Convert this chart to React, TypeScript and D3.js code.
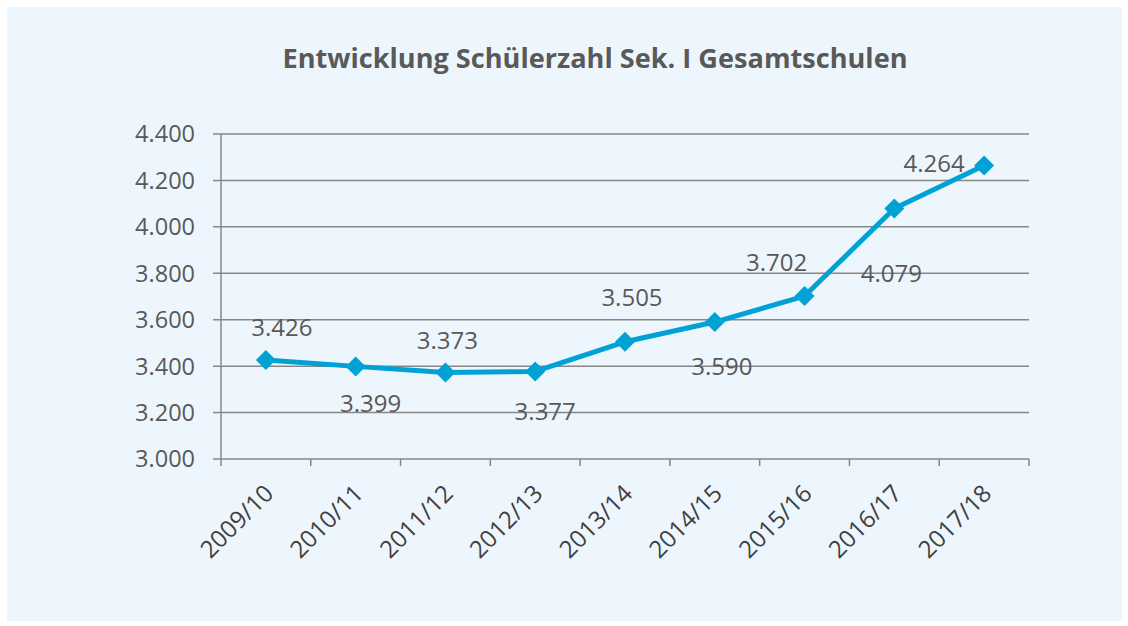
import React from 'react'
import * as d3 from 'd3'

const years = ['2009/10', '2010/11', '2011/12', '2012/13', '2013/14', '2014/15', '2015/16', '2016/17', '2017/18']
const pupils = [3426, 3399, 3373, 3377, 3505, 3590, 3702, 4079, 4264]
const yTicks = [3000, 3200, 3400, 3600, 3800, 4000, 4200, 4400]
const title = 'Entwicklung Schülerzahl Sek. I Gesamtschulen'

// where Excel put each data label relative to its point
const labelOffsets: [number, number][] = [
  [16, -33], [15, 37], [2, -32], [10, 40], [7, -44], [7, 44], [-28, -34], [-3, 65], [-50, -2],
]

const fmt = (v: number) => d3.format(',')(v).replace(/,/g, '.')

const App: React.FunctionComponent = () => {
  const width = 1128
  const height = 626
  const margin = { top: 134, right: 99, bottom: 167, left: 221 }
  const font = "'Open Sans', sans-serif"
  const text = '#595959'
  const grid = '#878787'
  const blue = '#00A2D5'

  const x = d3
    .scaleBand()
    .domain(years)
    .range([margin.left, width - margin.right])
  const y = d3
    .scaleLinear()
    .domain([3000, 4400])
    .range([height - margin.bottom, margin.top])

  const line = d3
    .line<number>()
    .x((_, i) => x(years[i])! + x.bandwidth() / 2)
    .y(d => y(d))

  const bottom = y(3000)
  const bounds = [...years.map(c => x(c)!), width - margin.right]

  return (
    <svg width={width} height={height} style={{ position: 'absolute', left: 0, top: 0 }}>
      <rect x={0} y={0} width={width} height={height} fill="#fff" />
      <rect x={7} y={7} width={1115} height={614} fill="#EEF6FD" />
      <text
        x={595}
        y={68}
        textAnchor="middle"
        fontFamily={font}
        fontWeight="bold"
        fontSize={26}
        fill={text}
        textLength={625}
        lengthAdjust="spacingAndGlyphs"
      >
        {title}
      </text>
      {yTicks.map(t => (
        <g key={t}>
          <line x1={margin.left - 8} x2={width - margin.right} y1={y(t)} y2={y(t)} stroke={grid} strokeWidth={1.5} />
          <text x={margin.left - 26} y={y(t)} dy="0.36em" textAnchor="end" fontFamily={font} fontSize={23.5} fill={text}>
            {fmt(t)}
          </text>
        </g>
      ))}
      <line x1={margin.left} x2={margin.left} y1={margin.top} y2={bottom} stroke={grid} strokeWidth={1.5} />
      {bounds.map((b, i) => (
        <line key={i} x1={b} x2={b} y1={bottom} y2={bottom + 7} stroke={grid} strokeWidth={1.5} />
      ))}
      {years.map(c => {
        const cx = x(c)! + x.bandwidth() / 2
        return (
          <text
            key={c}
            transform={`translate(${cx + 3},${bottom + 30}) rotate(-45)`}
            textAnchor="end"
            dy="0.35em"
            fontFamily={font}
            fontSize={24}
            fill="#404040"
          >
            {c}
          </text>
        )
      })}
      <path d={line(pupils) ?? ''} fill="none" stroke={blue} strokeWidth={5} strokeLinejoin="round" />
      {pupils.map((v, i) => {
        const cx = x(years[i])! + x.bandwidth() / 2
        const cy = y(v)
        return (
          <g key={i}>
            <path d={`M${cx},${cy - 10}L${cx + 10},${cy}L${cx},${cy + 10}L${cx - 10},${cy}Z`} fill={blue} />
            <text
              x={cx + labelOffsets[i][0]}
              y={cy + labelOffsets[i][1]}
              dy="0.36em"
              textAnchor="middle"
              fontFamily={font}
              fontSize={24}
              fill={text}
            >
              {fmt(v)}
            </text>
          </g>
        )
      })}
    </svg>
  )
}

export default App
